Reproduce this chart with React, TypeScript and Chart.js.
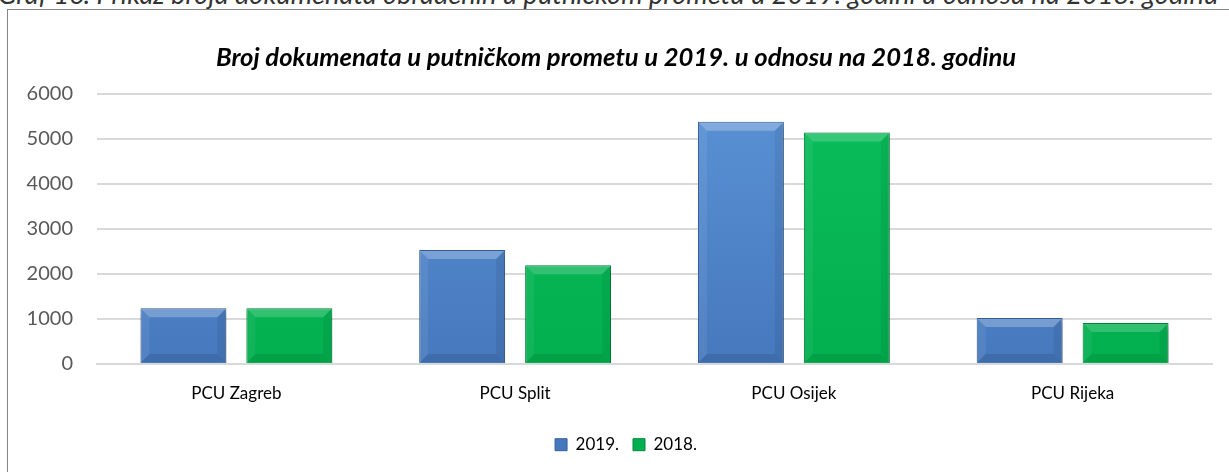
import React, { useEffect, useRef } from "react";
import { Chart, registerables } from "chart.js";

Chart.register(...registerables);

const categories = ["PCU Zagreb", "PCU Split", "PCU Osijek", "PCU Rijeka"];
const series2019 = [1240, 2530, 5380, 1020];
const series2018 = [1240, 2190, 5140, 910];
const seriesLabels = ["2019.", "2018."];
const yTicks = [0, 1000, 2000, 3000, 4000, 5000, 6000];
const chartTitle = "Broj dokumenata u putničkom prometu u 2019. u odnosu na 2018. godinu";
const caption =
  "Graf 16. Prikaz broja dokumenata obrađenih u putničkom prometu u 2019. godini u odnosu na 2018. godinu";

const FONT = "Lato, 'Open Sans', sans-serif";
const CANVAS_TOP = 10;
const CANVAS_LEFT = 8;

const gradientFill = (top: string, bottom: string) => (ctx: any) => {
  const area = ctx.chart.chartArea;
  if (!area) return bottom;
  const g = ctx.chart.ctx.createLinearGradient(0, area.top, 0, area.bottom);
  g.addColorStop(0, top);
  g.addColorStop(1, bottom);
  return g;
};

const shadowPlugin = {
  id: "barShadow",
  afterLayout(chart: any) {
    const lg = chart.legend;
    if (lg) {
      const wantY = 432.7;
      const cy = (lg.top + lg.bottom) / 2;
      const dy = wantY - cy;
      lg.top += dy;
      lg.bottom += dy;
      lg.left += 16;
      lg.right += 16;
    }
    const tb = chart.titleBlock;
    if (tb) {
      tb.left += 6;
      tb.right += 6;
    }
  },
  beforeDatasetsDraw(chart: any) {
    const ctx = chart.ctx;
    ctx.save();
    ctx.shadowColor = "rgba(0,0,0,0.3)";
    ctx.shadowBlur = 6;
    ctx.shadowOffsetX = 2;
    ctx.shadowOffsetY = 3;
  },
  afterDatasetsDraw(chart: any) {
    const ctx = chart.ctx;
    ctx.restore();
    const bevels = [
      { top: "rgba(255,255,255,0.25)", left: "rgba(255,255,255,0.07)", right: "rgba(0,0,0,0.07)", bottom: "rgba(0,0,0,0.10)" },
      { top: "rgba(255,255,255,0.18)", left: "rgba(255,255,255,0.06)", right: "rgba(0,0,0,0.06)", bottom: "rgba(0,0,0,0.08)" },
    ];
    chart.data.datasets.forEach((_: any, di: number) => {
      const meta = chart.getDatasetMeta(di);
      const c = bevels[di];
      meta.data.forEach((bar: any) => {
        const w = bar.width;
        const l = bar.x - w / 2 + 1;
        const r = bar.x + w / 2 - 1;
        const t = Math.min(bar.y, bar.base) + 1;
        const b = Math.max(bar.y, bar.base) - 1;
        const bv = Math.min(8, (b - t) / 2);
        const poly = (pts: number[][], color: string) => {
          ctx.beginPath();
          ctx.moveTo(pts[0][0], pts[0][1]);
          for (let i = 1; i < pts.length; i++) ctx.lineTo(pts[i][0], pts[i][1]);
          ctx.closePath();
          ctx.fillStyle = color;
          ctx.fill();
        };
        poly([[l, t], [r, t], [r - bv, t + bv], [l + bv, t + bv]], c.top);
        poly([[l, t], [l + bv, t + bv], [l + bv, b - bv], [l, b]], c.left);
        poly([[r, t], [r, b], [r - bv, b - bv], [r - bv, t + bv]], c.right);
        poly([[l, b], [l + bv, b - bv], [r - bv, b - bv], [r, b]], c.bottom);
      });
    });
  },
};

export default function App() {
  const ref = useRef<HTMLCanvasElement | null>(null);
  useEffect(() => {
    if (!ref.current) return;
    const chart = new Chart(ref.current, {
      type: "bar",
      data: {
        labels: categories,
        datasets: [
          {
            label: seriesLabels[0],
            data: series2019,
            backgroundColor: gradientFill("#5a92d5", "#4678bd"),
            borderColor: "#35609a",
            borderWidth: 1,
            categoryPercentage: 0.76,
            barPercentage: 0.811,
          },
          {
            label: seriesLabels[1],
            data: series2018,
            backgroundColor: gradientFill("#0bbd5c", "#03af4f"),
            borderColor: "#02883d",
            borderWidth: 1,
            categoryPercentage: 0.76,
            barPercentage: 0.811,
          },
        ],
      },
      options: {
        responsive: true,
        maintainAspectRatio: false,
        animation: false,
        layout: { padding: { left: 0, right: 17, top: 0, bottom: 27 } },
        plugins: {
          title: {
            display: true,
            text: chartTitle,
            color: "#000",
            font: { family: FONT, size: 25.6, weight: "bold", style: "italic" },
            padding: { top: 32, bottom: 21 },
          },
          legend: {
            position: "bottom",
            labels: {
              color: "#000",
              font: { family: FONT, size: 17 },
              boxWidth: 12,
              boxHeight: 12,
              padding: 14,
            },
          },
          tooltip: { enabled: false },
        },
        scales: {
          x: {
            afterFit: (s: any) => {
              s.height = 40;
            },
            grid: { display: false },
            border: { display: true, color: "#d9d9d9", width: 2 },
            ticks: { color: "#000", font: { family: FONT, size: 17 }, padding: 11 },
          },
          y: {
            min: 0,
            max: 6000,
            afterFit: (s: any) => {
              s.width = 89;
            },
            afterBuildTicks: (s: any) => {
              s.ticks = yTicks.map((v) => ({ value: v }));
            },
            border: { display: false },
            grid: { color: "#d9d9d9", lineWidth: 2, drawTicks: false },
            ticks: {
              color: "#595959",
              font: { family: FONT, size: 20 },
              padding: 24,
              callback: (v: any) => String(v),
            },
          },
        },
      },
      plugins: [shadowPlugin],
    });
    return () => chart.destroy();
  }, []);

  return (
    <div
      style={{
        position: "fixed",
        left: 0,
        top: 0,
        width: 1229,
        height: 472,
        overflow: "hidden",
        background: "#fff",
      }}
    >
      <div
        style={{
          position: "absolute",
          left: -2,
          top: -20,
          whiteSpace: "nowrap",
          fontFamily: FONT,
          fontStyle: "italic",
          fontSize: 27.2,
          lineHeight: "27.2px",
          color: "#333",
        }}
      >
        {caption}
      </div>
      <div
        style={{
          position: "absolute",
          left: 7,
          top: 9,
          width: 1240,
          height: 480,
          border: "1px solid #868686",
          boxSizing: "border-box",
          background: "#fff",
        }}
      />
      <div
        style={{
          position: "absolute",
          left: CANVAS_LEFT,
          top: CANVAS_TOP,
          width: 1221,
          height: 462,
        }}
      >
        <canvas ref={ref} />
      </div>
    </div>
  );
}
